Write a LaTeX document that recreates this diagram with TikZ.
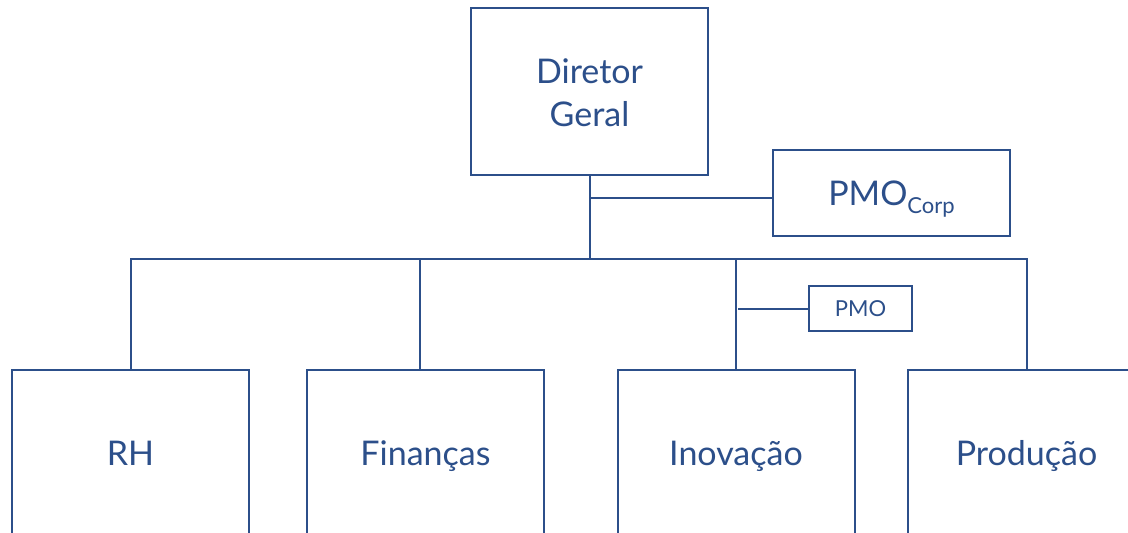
\documentclass[tikz,border=0pt]{standalone}
\usepackage{fontspec}
\setmainfont{Lato}
\definecolor{orgblue}{RGB}{44,79,138}
\begin{document}
\begin{tikzpicture}[x=1bp,y=-1bp,
  line width=2bp,
  box/.style={draw=orgblue, text=orgblue, fill=white, inner sep=0pt,
    minimum width=237bp, font=\fontsize{34bp}{43bp}\selectfont},
  unitbox/.style={box, minimum height=166bp, text height=24.4bp, text depth=0pt},
  smallbox/.style={draw=orgblue, text=orgblue, inner sep=0pt,
    minimum width=103bp, minimum height=45bp,
    text height=15.8bp, text depth=0pt,
    font=\fontsize{22bp}{26bp}\selectfont},
  link/.style={draw=orgblue, line cap=rect}
]
\clip (0,0) rectangle (1128,533);

% top level
\node[box, minimum height=167bp, align=center,
  label={[text=orgblue, font=\fontsize{34bp}{43bp}\selectfont, align=center,
          inner sep=0pt, yshift=-1.5bp]center:{Diretor\\Geral}}] (dg) at (589.5,91.5) {};
\node[box, minimum height=86bp, text height=24.4bp, text depth=0pt] (pmoc) at (891.5,193)
  {PMO\raisebox{-8bp}{\fontsize{22bp}{26bp}\selectfont Corp}};

% departments
\node[unitbox] (rh)   at (130.5,453.5) {RH};
\node[unitbox] (fin)  at (425.5,453.5) {Finanças};
\node[unitbox] (inov) at (736,453.5)   {Inovação};
\node[unitbox] (prod) at (1026.5,453.5) {Produção};

% department PMO
\node[smallbox] (pmo) at (860.5,309) {PMO};

% junction points
\coordinate (bus) at (589.5,259);
\coordinate (corptap) at (589.5,198);
\coordinate (pmotap) at (739,309);

% connectors
\draw[link] (dg.south) -- (bus);
\draw[link] (corptap) -- (corptap -| pmoc.west);
\draw[link] (rh.north) -- (rh.north |- bus) -- (prod.north |- bus) -- (prod.north);
\draw[link] ([xshift=-5.5bp]fin.north) -- ([xshift=-5.5bp]fin.north |- bus);
\draw[link] (inov.north) -- (inov.north |- bus);
\draw[link] (pmotap) -- (pmo.west);
\end{tikzpicture}
\end{document}
